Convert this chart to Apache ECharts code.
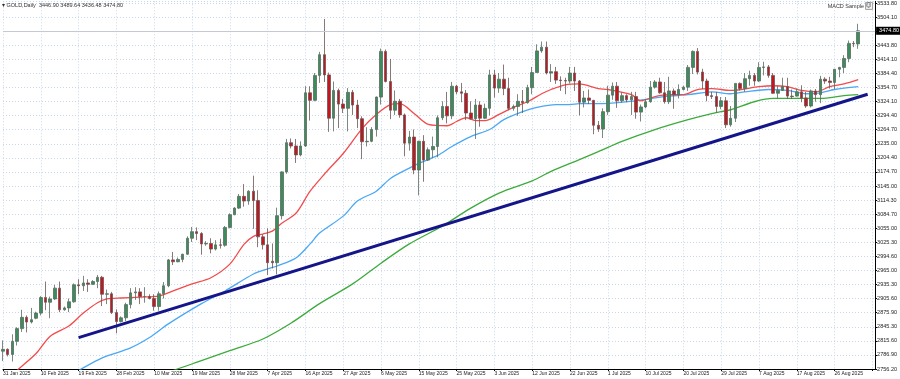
<!DOCTYPE html>
<html><head><meta charset="utf-8">
<script src="https://cdn.jsdelivr.net/npm/echarts@6/dist/echarts.min.js"></script>
<style>html,body{margin:0;padding:0;background:#fff}#c{width:900px;height:379px}</style>
</head><body><div id="c"></div>
<script>
// ---- Data ----
const titleText = '\u25BE GOLD,Daily  3446.90 3489.64 3436.48 3474.80';
const eaText = 'MACD Sample';
const xTickLabels = ['31 Jan 2025','10 Feb 2025','19 Feb 2025','28 Feb 2025','10 Mar 2025','19 Mar 2025','28 Mar 2025','7 Apr 2025','16 Apr 2025','27 Apr 2025','6 May 2025','15 May 2025','25 May 2025','3 Jun 2025','12 Jun 2025','22 Jun 2025','1 Jul 2025','10 Jul 2025','20 Jul 2025','29 Jul 2025','7 Aug 2025','17 Aug 2025','26 Aug 2025'];
const yTickLabels = ['2756.20','2786.90','2815.60','2845.30','2875.90','2905.60','2935.30','2965.00','2994.60','3025.30','3055.00','3084.70','3114.30','3145.00','3174.70','3204.40','3235.00','3264.70','3294.40','3324.10','3354.70','3384.40','3414.10','3443.80','','3504.10','3533.80'];
const yBase = 2756.20, yTop = 3533.80;
const lastPrice = 3474.80, lastPriceLabel = '3474.80';

const opens = [2794,2798,2787,2815,2842,2866,2856,2864,2875,2908,
2898,2905,2928,2882,2886,2899,2935,2933,2939,2936,
2942,2951,2915,2916,2876,2857,2865,2893,2918,2920,
2910,2910,2906,2889,2916,2933,2988,2984,2989,3000,
3034,3048,3044,3022,3023,3011,3020,3019,3057,3084,
3098,3123,3113,3134,3114,3037,3020,2985,2982,3082,
3175,3237,3230,3211,3230,3343,3327,3380,3424,3381,
3289,3348,3319,3310,3344,3317,3288,3239,3240,3265,
3334,3431,3367,3306,3325,3296,3236,3249,3179,3240,
3200,3222,3229,3290,3314,3294,3357,3345,3342,3300,
3288,3317,3289,3310,3381,3353,3372,3352,3310,3314,
3325,3322,3354,3386,3432,3440,3385,3388,3370,3369,
3368,3385,3368,3323,3332,3327,3274,3266,3303,3338,
3357,3326,3337,3328,3335,3302,3313,3324,3355,3366,
3343,3324,3347,3339,3350,3355,3397,3431,3387,3368,
3337,3335,3314,3326,3275,3289,3363,3352,3373,3380,
3368,3397,3398,3380,3342,3348,3356,3336,3336,3345,
3332,3315,3347,3339,3372,3368,3365,3393,3397,3416,
3448,3446.90];
const highs = [2817,2800,2830,2845,2882,2870,2886,2878,2911,2942,
2910,2935,2942,2889,2906,2938,2947,2954,2947,2945,
2956,2954,2925,2920,2883,2868,2897,2928,2930,2928,
2930,2915,2915,2921,2941,2990,3005,2993,3001,3038,
3058,3057,3047,3028,3034,3030,3033,3060,3087,3100,
3128,3149,3136,3167,3136,3042,3055,3023,3099,3176,
3245,3246,3245,3240,3357,3357,3385,3430,3500,3386,
3367,3352,3330,3353,3349,3328,3293,3270,3270,3335,
3437,3435,3415,3348,3330,3299,3262,3265,3241,3253,
3227,3250,3295,3325,3345,3366,3360,3364,3349,3325,
3330,3325,3320,3392,3392,3385,3403,3375,3318,3340,
3349,3360,3398,3446,3452,3452,3404,3398,3378,3375,
3398,3398,3370,3347,3350,3328,3283,3310,3358,3365,
3366,3344,3340,3345,3345,3318,3330,3368,3370,3375,
3366,3377,3352,3361,3358,3402,3433,3438,3394,3373,
3345,3345,3334,3334,3315,3363,3365,3385,3390,3385,
3408,3409,3402,3385,3358,3375,3375,3350,3352,3359,
3345,3350,3351,3379,3376,3377,3393,3398,3423,3454,
3453,3489.64];
const lows = [2773,2783,2772,2806,2835,2834,2853,2862,2870,2881,
2864,2903,2877,2880,2877,2897,2915,2922,2920,2935,
2928,2890,2894,2873,2832,2855,2858,2885,2903,2894,
2897,2904,2880,2880,2906,2930,2977,2983,2983,2999,
3026,3030,2999,3018,3002,3008,3012,3016,3055,3083,
3096,3101,3105,3054,3015,3010,2956,2970,2957,3074,
3171,3225,3194,3208,3228,3284,3325,3364,3366,3260,
3261,3268,3300,3261,3296,3268,3202,3229,3238,3250,
3318,3365,3287,3296,3290,3208,3220,3170,3125,3154,
3198,3205,3206,3285,3278,3287,3340,3323,3285,3286,
3245,3271,3287,3295,3333,3343,3338,3306,3305,3294,
3300,3320,3340,3386,3428,3382,3366,3362,3347,3340,
3363,3347,3295,3312,3319,3255,3260,3247,3296,3328,
3311,3322,3323,3296,3288,3282,3310,3322,3352,3341,
3320,3319,3309,3331,3348,3347,3383,3382,3351,3325,
3330,3301,3308,3268,3271,3281,3348,3345,3358,3358,
3366,3380,3375,3341,3331,3347,3330,3330,3335,3323,
3311,3312,3324,3321,3362,3352,3351,3376,3385,3408,
3440,3436.48];
const closes = [2798,2787,2815,2842,2866,2856,2861,2875,2908,2898,
2905,2928,2882,2886,2899,2935,2933,2939,2936,2942,
2951,2915,2916,2876,2857,2865,2893,2918,2920,2910,
2910,2906,2889,2916,2933,2988,2984,2989,3000,3034,
3048,3044,3022,3023,3011,3020,3019,3057,3084,3098,
3123,3113,3134,3114,3037,3020,2982,2982,3082,3175,
3237,3230,3211,3230,3343,3327,3380,3424,3381,3289,
3348,3319,3310,3344,3317,3288,3239,3240,3265,3334,
3431,3367,3306,3325,3296,3236,3249,3179,3240,3200,
3222,3229,3290,3314,3294,3357,3345,3342,3300,3288,
3317,3289,3310,3381,3353,3372,3352,3310,3314,3325,
3322,3354,3386,3432,3440,3385,3388,3370,3369,3368,
3385,3368,3323,3332,3327,3274,3266,3303,3338,3357,
3326,3337,3328,3335,3302,3313,3324,3355,3366,3343,
3324,3347,3339,3350,3355,3397,3431,3387,3368,3337,
3335,3314,3326,3275,3289,3363,3352,3373,3380,3368,
3397,3398,3380,3342,3348,3356,3336,3335,3345,3332,
3315,3347,3339,3372,3368,3365,3393,3397,3416,3448,
3447,3474.80];

// moving averages: [bar index, price]
const maRed = [[0,2722],[3,2753],[7,2789],[10,2826],[14,2848],[17,2875],[20,2897],[22,2905],[25,2907],[29,2909],[33,2911],[36,2922],[40,2937],[44,2950],[48,2979],[51,3021],[53,3038],[55,3043],[57,3049],[59,3066],[62,3087],[65,3134],[68,3170],[72,3214],[76,3267],[79,3297],[82,3318],[84,3320],[87,3299],[90,3276],[94,3273],[96,3282],[98,3290],[100,3284],[102,3284],[105,3297],[108,3312],[111,3324],[114,3341],[116,3350],[119,3360],[122,3362],[126,3352],[128,3350],[133,3339],[135,3326],[138,3335],[141,3339],[144,3339],[147,3350],[150,3352],[154,3348],[160,3356],[163,3358],[166,3356],[169,3348],[172,3345],[175,3356],[178,3362],[181,3371]];
const maBlue = [[10,2720],[16,2753],[21,2780],[27,2801],[31,2823],[35,2852],[42,2895],[47,2922],[53,2958],[56,2969],[58,2975],[62,2992],[65,3022],[67,3045],[72,3081],[75,3113],[79,3134],[82,3161],[86,3183],[88,3193],[92,3210],[95,3229],[99,3250],[103,3265],[106,3286],[110,3303],[113,3312],[117,3318],[120,3318],[122,3320],[127,3320],[134,3326],[140,3335],[145,3339],[150,3345],[154,3341],[157,3345],[162,3350],[166,3348],[170,3341],[173,3343],[176,3350],[181,3356]];
const maGreen = [[25,2717],[36,2753],[42,2774],[48,2795],[55,2820],[61,2854],[67,2895],[74,2937],[80,2981],[86,3022],[93,3060],[99,3098],[105,3130],[112,3156],[116,3176],[122,3201],[126,3218],[131,3240],[138,3265],[145,3286],[150,3299],[154,3307],[159,3324],[163,3331],[168,3331],[173,3331],[178,3337],[181,3339]];
const trendLine = [[16,2823],[183,3340]];

// ---- Build chart ----
const Y_STEP = (yTop - yBase) / (yTickLabels.length - 1);
const sh = v => v - yBase;
const candles = opens.map((o, i) => [i, sh(o), sh(closes[i]), sh(lows[i]), sh(highs[i])]);
const toLine = arr => arr.map(p => [p[0], sh(p[1])]);
const FONT = '"Liberation Sans", Arial, sans-serif';
const gridColor = '#c9d7ec';

const chart = echarts.init(document.getElementById('c'), null, {renderer: 'canvas'});
chart.setOption({
  animation: false,
  backgroundColor: '#ffffff',
  grid: {left: 0, right: 24, top: 0, bottom: 10, containLabel: false},
  xAxis: {
    type: 'value', min: 0, max: 184.58, interval: 8,
    axisLine: {show: true, onZero: false, lineStyle: {color: '#000', width: 1}},
    axisTick: {show: true, length: 2, lineStyle: {color: '#000'}},
    splitLine: {show: true, lineStyle: {color: gridColor, type: [1, 2], width: 1}},
    axisLabel: {
      show: true, showMaxLabel: false, showMinLabel: true, align: 'left', margin: 2,
      fontSize: 5, color: '#222', fontFamily: FONT,
      formatter: v => xTickLabels[Math.round(v / 8)] || ''
    }
  },
  yAxis: {
    type: 'value', position: 'right', min: 0, max: 781.2, interval: Y_STEP, scale: false,
    axisLine: {show: true, onZero: false, lineStyle: {color: '#000', width: 1}},
    axisTick: {show: true, length: 2, lineStyle: {color: '#000'}},
    splitLine: {show: true, lineStyle: {color: gridColor, type: [1, 2], width: 1}},
    axisLabel: {
      show: true, showMaxLabel: false, showMinLabel: true, margin: 2,
      fontSize: 5.5, color: '#222', fontFamily: FONT,
      formatter: v => yTickLabels[Math.round(v / Y_STEP)] || ''
    }
  },
  series: [
    {
      type: 'line', data: toLine(maGreen), showSymbol: false, smooth: 0.3, z: 3,
      lineStyle: {color: '#3cab3c', width: 1.3}, silent: true
    },
    {
      type: 'line', data: toLine(maBlue), showSymbol: false, smooth: 0.3, z: 3,
      lineStyle: {color: '#4aa8f5', width: 1.3}, silent: true
    },
    {
      type: 'line', data: toLine(maRed), showSymbol: false, smooth: 0.3, z: 3,
      lineStyle: {color: '#f24b4b', width: 1.3}, silent: true
    },
    {
      type: 'candlestick', data: candles, barWidth: 3, z: 4,
      itemStyle: {
        color: '#3b8d5b', color0: '#c4161c',
        borderColor: '#5b6b60', borderColor0: '#6b5555', borderWidth: 0.8
      },
      markLine: {
        silent: true, symbol: ['none', 'none'], animation: false,
        data: [{yAxis: sh(lastPrice)}],
        lineStyle: {color: '#c3cad6', type: 'solid', width: 1},
        label: {
          show: true, position: 'end', distance: 1, formatter: lastPriceLabel,
          backgroundColor: '#000', color: '#fff', fontSize: 5.5, fontFamily: FONT,
          padding: [1, 3, 1, 3]
        }
      }
    },
    {
      type: 'line', data: toLine(trendLine), showSymbol: false, z: 5,
      lineStyle: {color: '#15158a', width: 3}, silent: true
    }
  ],
  graphic: [
    {type: 'text', left: 2, top: 2, z: 10,
     style: {text: titleText, fontSize: 5.5, fill: '#333', fontFamily: FONT}},
    {type: 'text', right: 36, top: 3, z: 10,
     style: {text: eaText, fontSize: 5.5, fill: '#333', fontFamily: FONT}},
    {type: 'rect', right: 27, top: 2, z: 10,
     shape: {width: 7, height: 7},
     style: {fill: '#f4f4f4', stroke: '#888', lineWidth: 0.8}},
    {type: 'text', right: 28.5, top: 2.5, z: 11,
     style: {text: '\u263A', fontSize: 5.5, fill: '#333', fontFamily: '"DejaVu Sans", sans-serif'}}
  ]
});
</script>
</body></html>
